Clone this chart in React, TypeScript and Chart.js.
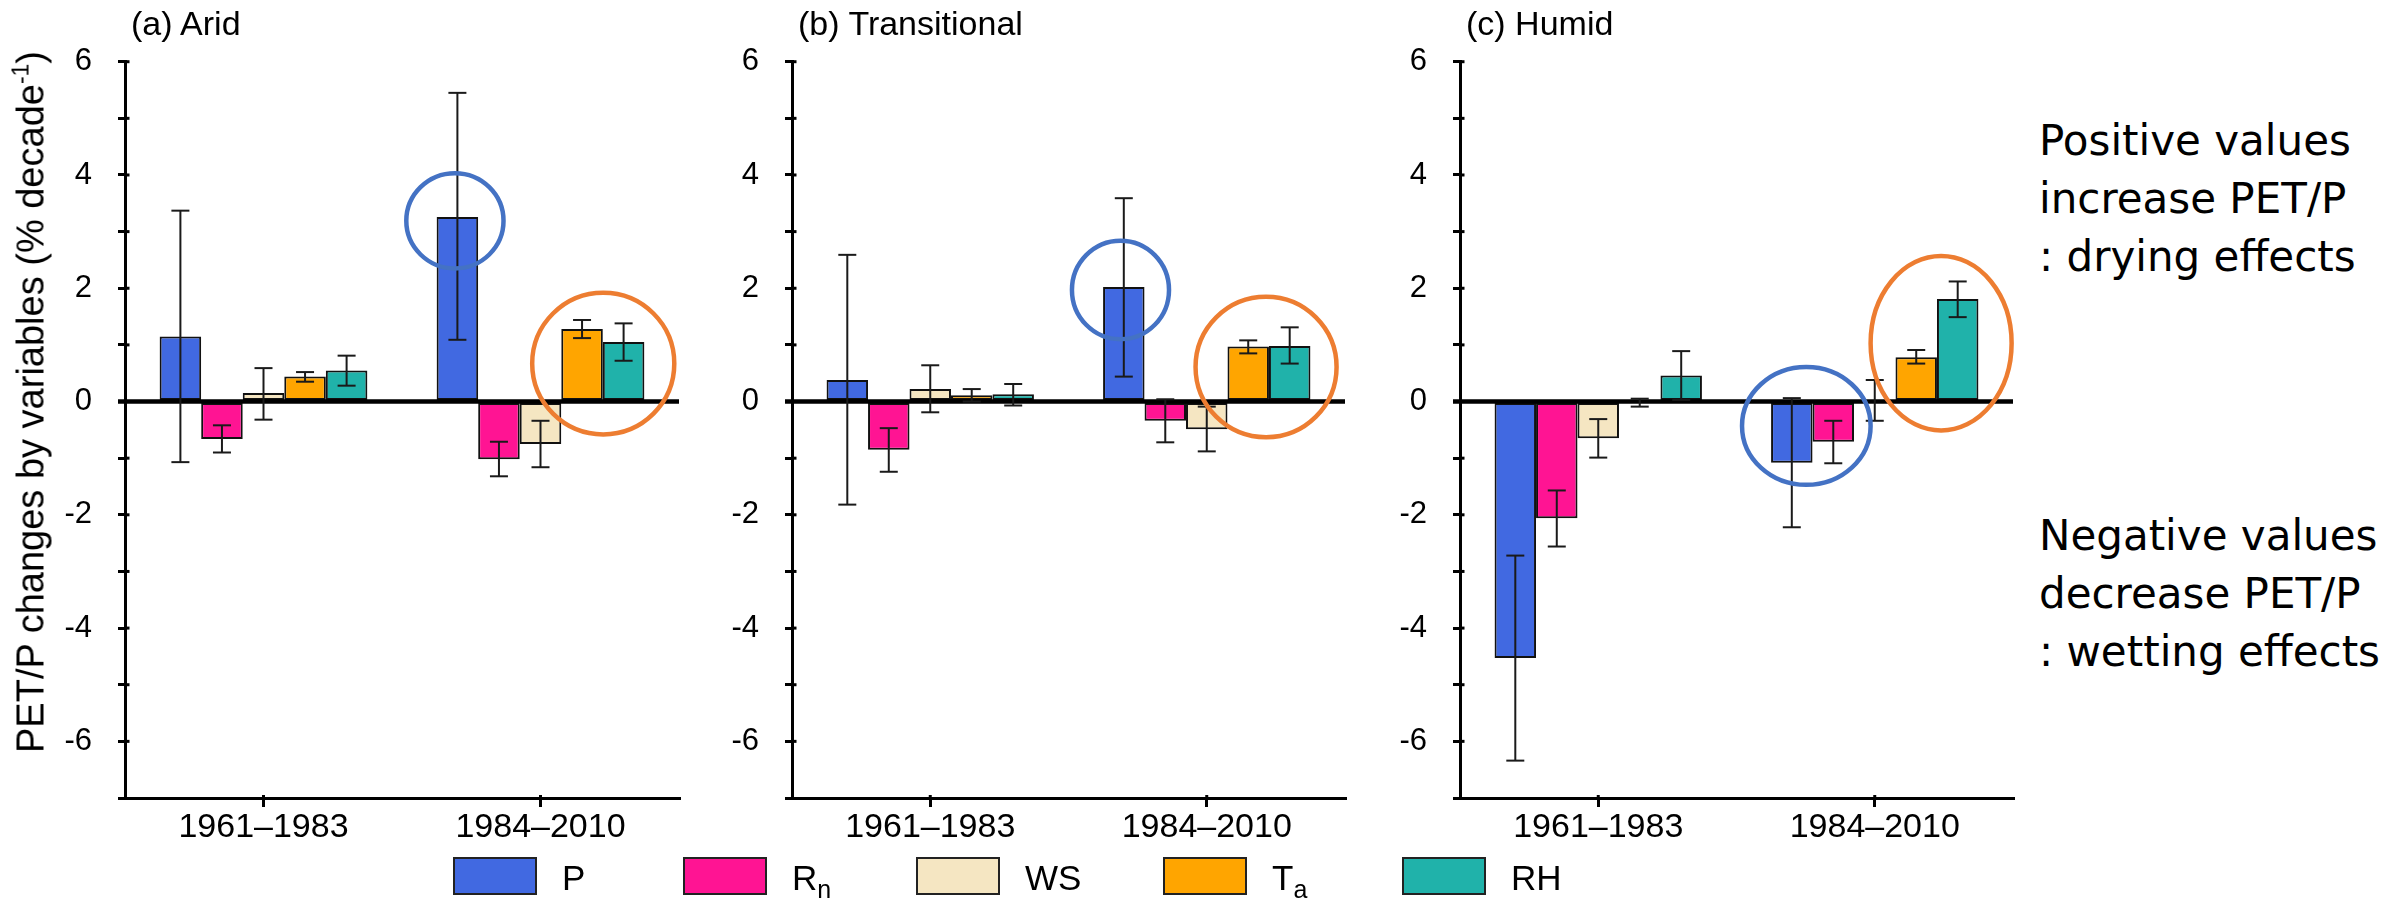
import React, { useEffect, useRef } from 'react';
import { Chart, registerables } from 'chart.js';

Chart.register(...registerables);

// ---------- data ----------
const periods = ['1961–1983', '1984–2010'];
const variables = ['P', 'Rn', 'WS', 'Ta', 'RH'];
const variableMain = ['P', 'R', 'WS', 'T', 'RH'];
const variableSub = ['', 'n', '', 'a', ''];
const variableColors = ['#4169E1', '#FF1493', '#F5E6C2', '#FFA500', '#20B2AA'];

// rows: P, Rn, WS, Ta, RH ; columns: periods
const aridMean = [[1.15, 3.26], [-0.66, -1.02], [0.15, -0.75], [0.44, 1.28], [0.55, 1.05]];
const aridLow = [[-1.07, 1.09], [-0.9, -1.32], [-0.32, -1.16], [0.35, 1.12], [0.28, 0.72]];
const aridHigh = [[3.37, 5.45], [-0.42, -0.71], [0.59, -0.34], [0.52, 1.44], [0.81, 1.38]];

const transMean = [[0.38, 2.02], [-0.85, -0.34], [0.22, -0.49], [0.11, 0.97], [0.13, 0.98]];
const transLow = [[-1.82, 0.44], [-1.24, -0.72], [-0.19, -0.88], [0.0, 0.85], [-0.07, 0.67]];
const transHigh = [[2.59, 3.59], [-0.47, 0.04], [0.64, -0.09], [0.22, 1.08], [0.31, 1.31]];

const humidMean = [[-4.53, -1.08], [-2.06, -0.71], [-0.65, 0.02], [-0.02, 0.78], [0.46, 1.81]];
const humidLow = [[-6.34, -2.22], [-2.56, -1.09], [-0.99, -0.34], [-0.09, 0.67], [0.03, 1.49]];
const humidHigh = [[-2.72, 0.06], [-1.57, -0.34], [-0.31, 0.38], [0.05, 0.91], [0.89, 2.12]];

// highlight rings: period index, offset (bar widths), centre value, radius x (bar widths), radius y (value units)
const aridRings = [
  { kind: 'blue', period: 1, offset: -2.06, value: 3.19, rx: 1.17, ry: 0.84 },
  { kind: 'orange', period: 1, offset: 1.51, value: 0.67, rx: 1.71, ry: 1.25 },
];
const transRings = [
  { kind: 'blue', period: 1, offset: -2.08, value: 1.97, rx: 1.17, ry: 0.87 },
  { kind: 'orange', period: 1, offset: 1.43, value: 0.61, rx: 1.7, ry: 1.24 },
];
const humidRings = [
  { kind: 'blue', period: 1, offset: -1.65, value: -0.43, rx: 1.55, ry: 1.04 },
  { kind: 'orange', period: 1, offset: 1.6, value: 1.03, rx: 1.7, ry: 1.54 },
];

const yMin = -7;
const yMax = 6;

// ---------- styles / layout ----------
const ringColors: Record<string, string> = { blue: '#4472C4', orange: '#ED7D31' };
const FONT = "'Liberation Sans', Arial, sans-serif";

const panels = [
  { title: '(a) Arid', mean: aridMean, low: aridLow, high: aridHigh, rings: aridRings, canvasLeft: 0, canvasWidth: 700, plotLeft: 125, plotRight: 679 },
  { title: '(b) Transitional', mean: transMean, low: transLow, high: transHigh, rings: transRings, canvasLeft: 700, canvasWidth: 670, plotLeft: 792, plotRight: 1345 },
  { title: '(c) Humid', mean: humidMean, low: humidLow, high: humidHigh, rings: humidRings, canvasLeft: 1370, canvasWidth: 660, plotLeft: 1460, plotRight: 2013 },
];

const PLOT_TOP = 61.7;
const PLOT_BOTTOM = 798;
const CANVAS_H = 898;

const legendBoxX = [453, 683, 916, 1163, 1402];

function line(ctx: CanvasRenderingContext2D, x1: number, y1: number, x2: number, y2: number) {
  ctx.beginPath();
  ctx.moveTo(x1, y1);
  ctx.lineTo(x2, y2);
  ctx.stroke();
}

function Panel({ panel }: { panel: any }) {
  const ref = useRef<HTMLCanvasElement | null>(null);
  useEffect(() => {
    const canvas = ref.current;
    if (!canvas) return;
    const yAxisWidth = panel.plotLeft - panel.canvasLeft;
    const padRight = panel.canvasLeft + panel.canvasWidth - panel.plotRight;

    const overlay = {
      id: 'overlay',
      afterDatasetsDraw(chart: any) {
        const ctx: CanvasRenderingContext2D = chart.ctx;
        const { left, right, bottom } = chart.chartArea;
        const ys = chart.scales.y;
        const xs = chart.scales.x;
        ctx.save();
        ctx.strokeStyle = '#000';
        ctx.lineCap = 'butt';
        // inner tick stubs
        ctx.lineWidth = 3;
        for (let v = yMin + 1; v <= yMax; v++) {
          const y = ys.getPixelForValue(v);
          line(ctx, left, y, left + 4.5, y);
        }
        for (let i = 0; i < periods.length; i++) {
          const x = xs.getPixelForValue(i);
          line(ctx, x, bottom - 3, x, bottom);
        }
        // zero line
        const y0 = ys.getPixelForValue(0);
        ctx.lineWidth = 4.5;
        line(ctx, left - 7, y0, right, y0);
        // error bars
        ctx.lineWidth = 2;
        ctx.strokeStyle = '#1a1a1a';
        chart.data.datasets.forEach((ds: any, di: number) => {
          const meta = chart.getDatasetMeta(di);
          meta.data.forEach((el: any, j: number) => {
            const x = el.x;
            const yh = ys.getPixelForValue(ds.errHigh[j]);
            const yl = ys.getPixelForValue(ds.errLow[j]);
            line(ctx, x, yh, x, yl);
            line(ctx, x - 9, yh, x + 9, yh);
            line(ctx, x - 9, yl, x + 9, yl);
          });
        });
        // rings
        const barW = chart.getDatasetMeta(0).data[0].width;
        panel.rings.forEach((r: any) => {
          const cx = xs.getPixelForValue(r.period) + r.offset * barW;
          const cy = ys.getPixelForValue(r.value);
          const rx = r.rx * barW;
          const ry = Math.abs(ys.getPixelForValue(r.value + r.ry) - cy);
          ctx.beginPath();
          ctx.ellipse(cx, cy, rx, ry, 0, 0, Math.PI * 2);
          ctx.lineWidth = 4.5;
          ctx.strokeStyle = ringColors[r.kind];
          ctx.stroke();
        });
        ctx.restore();
      },
    };

    const chart = new Chart(canvas, {
      type: 'bar',
      data: {
        labels: periods,
        datasets: variables.map((v, i) => ({
          label: v,
          data: panel.mean[i],
          errLow: panel.low[i],
          errHigh: panel.high[i],
          backgroundColor: variableColors[i],
          borderColor: '#111',
          borderWidth: 2,
          borderSkipped: false,
          categoryPercentage: 0.75,
          barPercentage: 1,
        })) as any,
      },
      options: {
        animation: false,
        responsive: false,
        maintainAspectRatio: false,
        devicePixelRatio: 1,
        layout: { padding: { left: 0, right: padRight, top: PLOT_TOP, bottom: 0 } },
        plugins: {
          legend: { display: false },
          tooltip: { enabled: false },
          title: { display: false },
        },
        scales: {
          x: {
            grid: { display: true, drawOnChartArea: false, offset: false, tickLength: 9, lineWidth: 3, color: '#000' },
            border: { display: true, color: '#000', width: 3 },
            ticks: { color: '#000', font: { family: FONT, size: 34 }, padding: 0, maxRotation: 0, autoSkip: false },
            afterFit: (s: any) => {
              s.height = CANVAS_H - PLOT_BOTTOM;
            },
          },
          y: {
            min: yMin,
            max: yMax,
            grid: { display: true, drawOnChartArea: false, tickLength: 7, lineWidth: 3, color: '#000' },
            border: { display: true, color: '#000', width: 3 },
            ticks: {
              stepSize: 1,
              autoSkip: false,
              color: '#000',
              padding: 26,
              font: { family: FONT, size: 31 },
              callback: (v: any) => (Number(v) % 2 === 0 ? String(v) : ''),
            },
            afterFit: (s: any) => {
              s.width = yAxisWidth;
            },
          },
        },
      } as any,
      plugins: [overlay],
    });
    return () => chart.destroy();
  }, [panel]);

  return (
    <>
      <canvas
        ref={ref}
        width={panel.canvasWidth}
        height={CANVAS_H}
        style={{ position: 'absolute', left: panel.canvasLeft, top: 0, width: panel.canvasWidth, height: CANVAS_H }}
      />
      <div
        style={{
          position: 'absolute',
          left: panel.plotLeft + 6,
          top: 6,
          fontFamily: FONT,
          fontSize: 34,
          lineHeight: '34px',
          whiteSpace: 'nowrap',
          color: '#000',
        }}
      >
        {panel.title}
      </div>
    </>
  );
}

export default function App() {
  useEffect(() => {
    document.body.style.margin = '0';
  }, []);
  return (
    <div
      style={{
        position: 'absolute',
        left: 0,
        top: 0,
        width: 2397,
        height: 898,
        background: '#fff',
        overflow: 'hidden',
        fontFamily: FONT,
        color: '#000',
      }}
    >
      {panels.map((p) => (
        <Panel key={p.title} panel={p} />
      ))}

      {/* y-axis title */}
      <div
        style={{
          position: 'absolute',
          left: 33,
          top: 402,
          transform: 'translate(-50%, -50%) rotate(-90deg)',
          fontSize: 38,
          lineHeight: '38px',
          whiteSpace: 'nowrap',
        }}
      >
        PET/P changes by variables (% decade
        <span style={{ fontSize: 23, position: 'relative', top: -15 }}>-1</span>)
      </div>

      {/* legend */}
      {variables.map((v, i) => (
        <React.Fragment key={v}>
          <div
            style={{
              position: 'absolute',
              left: legendBoxX[i],
              top: 857,
              width: 84,
              height: 38,
              boxSizing: 'border-box',
              background: variableColors[i],
              border: '2px solid #222',
            }}
          />
          <div
            style={{
              position: 'absolute',
              left: legendBoxX[i] + 84 + 25,
              top: 860,
              fontSize: 35,
              lineHeight: '35px',
              whiteSpace: 'nowrap',
            }}
          >
            {variableMain[i]}
            {variableSub[i] ? (
              <span style={{ fontSize: 25, position: 'relative', top: 8 }}>{variableSub[i]}</span>
            ) : null}
          </div>
        </React.Fragment>
      ))}

      {/* right-hand notes */}
      <div
        style={{
          position: 'absolute',
          left: 2039,
          top: 112,
          fontFamily: "'DejaVu Sans', Verdana, sans-serif",
          fontSize: 42,
          lineHeight: '58px',
          whiteSpace: 'nowrap',
        }}
      >
        <div>Positive values</div>
        <div>increase PET/P</div>
        <div>: drying effects</div>
      </div>
      <div
        style={{
          position: 'absolute',
          left: 2039,
          top: 507,
          fontFamily: "'DejaVu Sans', Verdana, sans-serif",
          fontSize: 42,
          lineHeight: '58px',
          whiteSpace: 'nowrap',
        }}
      >
        <div>Negative values</div>
        <div>decrease PET/P</div>
        <div>: wetting effects</div>
      </div>
    </div>
  );
}
